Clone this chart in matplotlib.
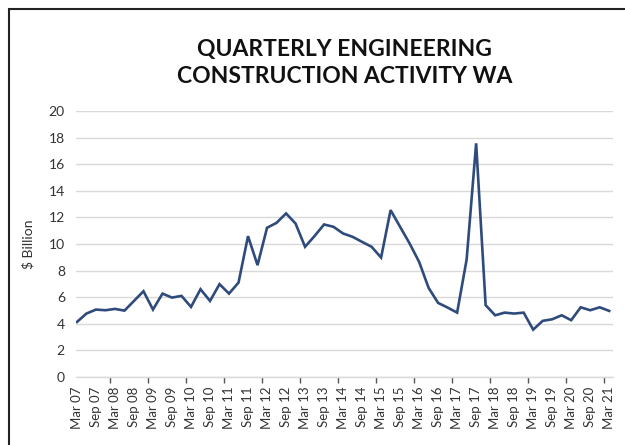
import matplotlib.pyplot as plt
from matplotlib.patches import Rectangle

# quarterly values, Mar 07 .. Mar 21 ($ billion)
activity = [4.14, 4.77, 5.07, 5.02, 5.12, 4.99, 5.72, 6.45, 5.07, 6.27,
            5.97, 6.10, 5.27, 6.60, 5.72, 6.98, 6.27, 7.10, 10.59, 8.41,
            11.22, 11.59, 12.30, 11.54, 9.79, 10.60, 11.47, 11.29, 10.79, 10.54,
            10.16, 9.79, 8.98, 12.55, 11.29, 10.04, 8.66, 6.70, 5.57, 5.22,
            4.84, 8.83, 17.57, 5.40, 4.64, 4.84, 4.77, 4.84, 3.56, 4.22,
            4.34, 4.64, 4.27, 5.24, 5.02, 5.24, 4.97]
tick_labels = ['Mar 07', 'Sep 07', 'Mar 08', 'Sep 08', 'Mar 09', 'Sep 09',
               'Mar 10', 'Sep 10', 'Mar 11', 'Sep 11', 'Mar 12', 'Sep 12',
               'Mar 13', 'Sep 13', 'Mar 14', 'Sep 14', 'Mar 15', 'Sep 15',
               'Mar 16', 'Sep 16', 'Mar 17', 'Sep 17', 'Mar 18', 'Sep 18',
               'Mar 19', 'Sep 19', 'Mar 20', 'Sep 20', 'Mar 21']

plt.rcParams['font.family'] = ['Lato', 'DejaVu Sans']

fig = plt.figure(figsize=(6.25, 4.45), dpi=100)
ax = fig.add_axes([76 / 625, 68 / 445, 537 / 625, 266 / 445])

x = list(range(len(activity)))
ax.plot(x, activity, color='#2f4b7c', linewidth=1.9, solid_joinstyle='miter')

ax.set_ylim(0, 20)
ax.set_yticks(range(0, 21, 2))
ax.set_xlim(-0.1, 56.4)
ax.yaxis.grid(True, color='#d9d9d9', linewidth=1)
ax.set_axisbelow(True)
for side in ['top', 'right', 'left']:
    ax.spines[side].set_visible(False)
ax.spines['bottom'].set_color('#d9d9d9')
ax.spines['bottom'].set_linewidth(1)

ax.tick_params(axis='y', length=0, labelsize=10, labelcolor='#333333', pad=8)
ax.set_xticks(range(0, 57, 2))
ax.set_xticklabels(tick_labels, rotation=90, fontsize=9.5, color='#333333')
ax.tick_params(axis='x', which='major', length=0, pad=7)
ax.set_xticks([i + 3.5 for i in range(0, 56, 4)], minor=True)
ax.tick_params(axis='x', which='minor', length=4, color='#555555', width=1)

ax.set_ylabel('\\$ Billion', fontsize=10, color='#333333', labelpad=10)
ax.set_title('QUARTERLY ENGINEERING\nCONSTRUCTION ACTIVITY WA',
             fontsize=16.5, fontweight='bold', color='#111111', pad=20,
             linespacing=1.38)

# outer frame
fig.patches.append(Rectangle((9 / 625, -0.05), 1.1, (436 / 445) + 0.05,
                             transform=fig.transFigure, fill=False,
                             edgecolor='#222222', linewidth=1.5))

fig.savefig('out.png', dpi=100)
